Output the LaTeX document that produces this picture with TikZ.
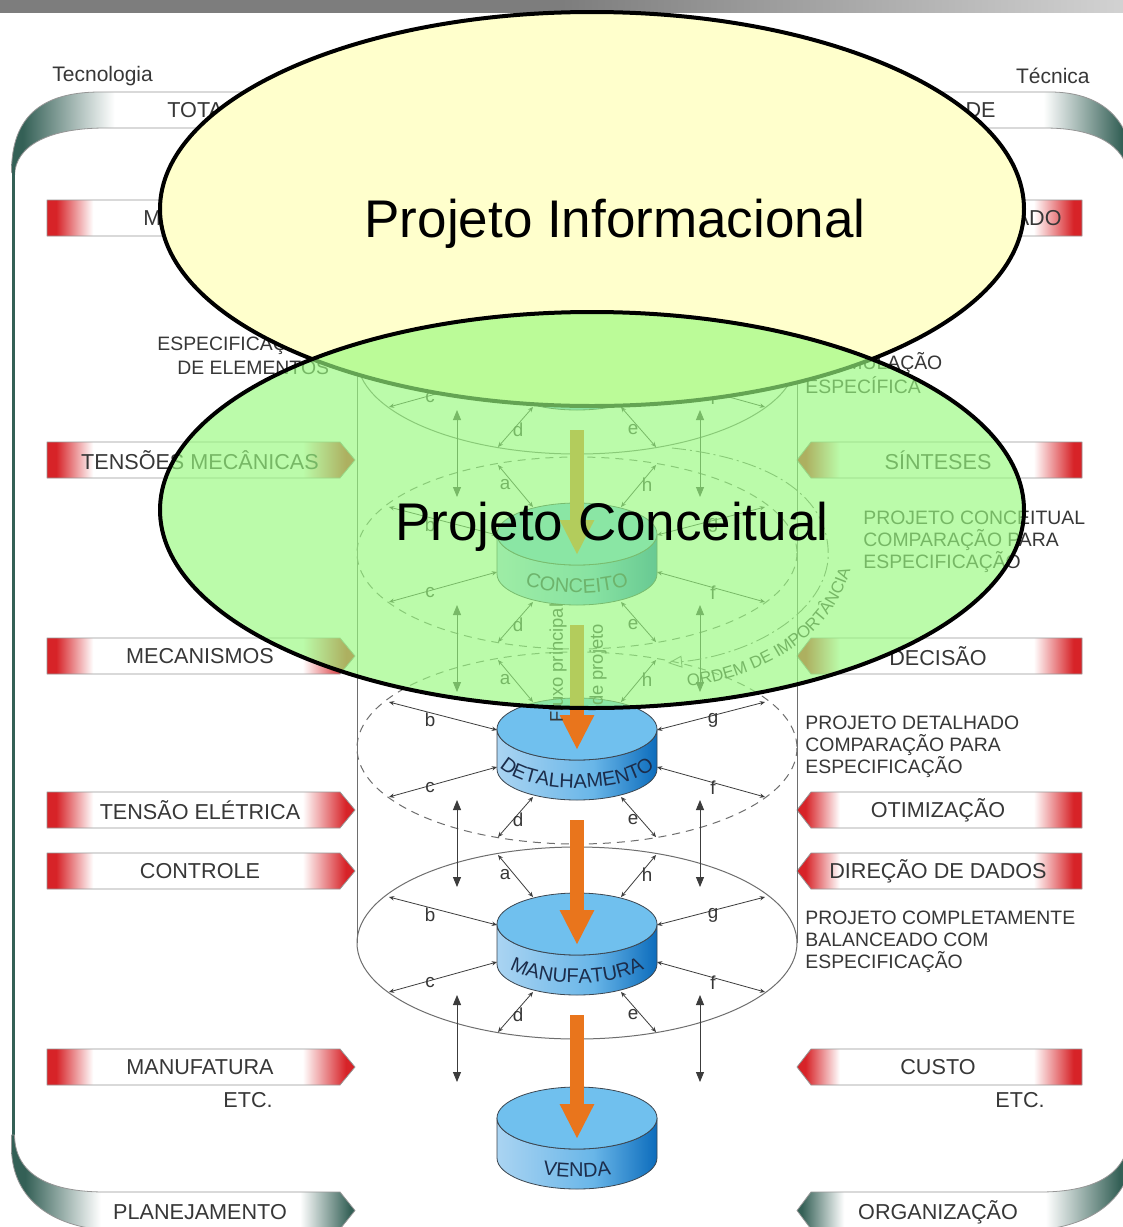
\documentclass[tikz,border=0pt]{standalone}
\usepackage{fontspec}
\setmainfont{Liberation Sans}
\usetikzlibrary{arrows.meta,decorations.text}
\definecolor{tabred}{RGB}{215,35,40}
\definecolor{frameteal}{RGB}{52,96,86}
\definecolor{txtgray}{RGB}{55,55,55}
\definecolor{edgegray}{RGB}{150,150,150}
\definecolor{linegray}{RGB}{60,60,60}
\definecolor{ringgray}{RGB}{110,110,110}
\definecolor{floworange}{RGB}{233,117,28}
\definecolor{disctop}{RGB}{112,192,238}
\definecolor{discL}{RGB}{170,212,242}
\definecolor{discM}{RGB}{105,182,232}
\definecolor{discR}{RGB}{12,108,188}
\definecolor{discline}{RGB}{60,70,80}
\definecolor{discnavy}{RGB}{28,45,75}
\definecolor{infoyel}{RGB}{255,255,204}
\definecolor{concgreen}{RGB}{152,250,126}
\definecolor{bardark}{RGB}{125,125,125}
\definecolor{barlight}{RGB}{210,210,210}
\pgfdeclarehorizontalshading{tabshade}{100bp}{color(0bp)=(tabred); color(26.5bp)=(tabred); color(32.5bp)=(white); color(66.5bp)=(white); color(73.5bp)=(tabred); color(100bp)=(tabred)}
\pgfdeclarehorizontalshading{bandL}{100bp}{color(0bp)=(frameteal); color(27bp)=(frameteal); color(38bp)=(white); color(67bp)=(white); color(74.3bp)=(frameteal); color(100bp)=(frameteal)}
\pgfdeclarehorizontalshading{bandR}{100bp}{color(0bp)=(frameteal); color(25.7bp)=(frameteal); color(32bp)=(white); color(62bp)=(white); color(73bp)=(frameteal); color(100bp)=(frameteal)}
\pgfdeclarehorizontalshading{ribbon}{100bp}{color(0bp)=(frameteal); color(25.5bp)=(frameteal); color(29.6bp)=(white); color(71bp)=(white); color(74.5bp)=(frameteal); color(100bp)=(frameteal)}
\pgfdeclarehorizontalshading{topbar}{100bp}{color(0bp)=(bardark); color(50bp)=(bardark); color(75bp)=(barlight); color(100bp)=(barlight)}
\pgfdeclarehorizontalshading{discside}{100bp}{color(0bp)=(discL); color(25bp)=(discL); color(55bp)=(discM); color(75bp)=(discR); color(100bp)=(discR)}
\begin{document}
\begin{tikzpicture}[x=0.5pt, y=-0.5pt, line join=round,
    txt/.style={text=txtgray, inner sep=0pt},
    tabtext/.style={txt, font=\fontsize{10.8}{12}\selectfont},
    sidetext/.style={txt, font=\fontsize{9.7}{11}\selectfont, align=left, anchor=west},
    letter/.style={txt, font=\fontsize{9.4}{10}\selectfont},
    tabline/.style={draw=edgegray, line width=0.4pt},
    ring/.style={draw=ringgray, line width=0.5pt},
    ringdash/.style={dash pattern=on 4pt off 3pt},
    link/.style={{Stealth[length=2.6pt,width=2.2pt]}-{Stealth[length=2.6pt,width=2.2pt]}, draw=linegray, line width=0.4pt},
    vlink/.style={{Triangle[length=5pt,width=4pt]}-{Triangle[length=5pt,width=4pt]}, draw=linegray, line width=0.45pt},
    flow/.style={-{Triangle[length=17.5pt,width=16pt]}, draw=floworange, line width=6.8pt, line cap=butt},
    phase/.style={draw=black, line width=2pt},
    phasetext/.style={font=\fontsize{26.5}{30}\selectfont, inner sep=0pt}]
\useasboundingbox (0,0) rectangle (1123,1227);
\clip (0,0) rectangle (1123,1227);
\fill[white] (0,0) rectangle (1123,1227);
\shade[shading=topbar] (0,0) rectangle (1123,12.5);
% frame: ribbon, side line, bottom bands
\shade[shading=ribbon, draw=edgegray, line width=0.4pt] (11.5,172) .. controls (11.5,118) and (40,92) .. (100,92) -- (1050,92) .. controls (1100,92) and (1133,118) .. (1133,172) -- (1129,176) .. controls (1125,145) and (1095,128) .. (1045,128) -- (105,128) .. controls (50,128) and (15,145) .. (14.5,176) -- cycle;
\draw[frameteal, line width=1.5pt] (13,165) -- (13,1148);
\shade[shading=bandL, draw=edgegray, line width=0.4pt] (11.5,1135) -- (11.5,1150) .. controls (13,1195) and (45,1222) .. (95,1229) -- (340,1229) -- (355,1210.5) -- (340,1192) -- (105,1192) .. controls (50,1192) and (15,1175) .. (14.5,1135) -- cycle;
\shade[shading=bandR, draw=edgegray, line width=0.4pt] (1133,1135) -- (1133,1150) .. controls (1131,1195) and (1098,1222) .. (1048,1229) -- (811,1229) -- (797,1210.5) -- (811,1192) -- (1040,1192) .. controls (1093,1192) and (1128,1175) .. (1129,1135) -- cycle;
\node[txt, font=\fontsize{10.5}{12}\selectfont, anchor=west] (tecno) at (52,76) {Tecnologia};
\node[txt, font=\fontsize{10.5}{12}\selectfont, anchor=east] (tecnica) at (1090,76) {Técnica};
\node[tabtext, anchor=west] (tota) at (167,110) {TOTA};
\node[tabtext, anchor=east] (rde) at (996,110) {DE};
\node[tabtext] (plan) at (200,1212) {PLANEJAMENTO};
\node[tabtext] (org) at (938,1212) {ORGANIZAÇÃO};
% tabs
\foreach \y in {218,460,656,810,871,1067}{
  \shade[shading=tabshade, tabline] (47,\y-18) -- (340,\y-18) -- (355,\y) -- (340,\y+18) -- (47,\y+18) -- cycle;
  \shade[shading=tabshade, tabline] (1082,\y-18) -- (811,\y-18) -- (797,\y) -- (811,\y+18) -- (1082,\y+18) -- cycle;
}
\node[tabtext, anchor=west] (ltab0) at (143,218) {M};
\node[tabtext, anchor=east] (rtab0) at (1062,218) {ADO};
\foreach \y/\t [count=\i] in {460/TENSÕES MECÂNICAS, 656/MECANISMOS, 810/TENSÃO ELÉTRICA, 871/CONTROLE, 1067/MANUFATURA}
  \node[tabtext] (ltab\i) at (200,\y) {\t};
\foreach \y/\t [count=\i] in {460/SÍNTESES, 656/DECISÃO, 810/OTIMIZAÇÃO, 871/DIREÇÃO DE DADOS, 1067/CUSTO}
  \node[tabtext] (rtab\i) at (938,\y) {\t};
\node[tabtext] (letc) at (248,1100) {ETC.};
\node[tabtext] (retc) at (1020,1100) {ETC.};
% side notes
\node[sidetext] (lspec1) at (157,346) {ESPECIFICAÇ};
\node[sidetext] (lspec2) at (177,368) {DE ELEMENTOS};
\node[sidetext] (rspec1) at (846,363) {MULAÇÃO};
\node[sidetext] (rspec2) at (805,385) {ESPECÍFICA};
\node[sidetext] (rconc) at (863,542) {PROJETO CONCEITUAL\\COMPARAÇÃO PARA\\ESPECIFICAÇÃO};
\node[sidetext] (rdet) at (805,747) {PROJETO DETALHADO\\COMPARAÇÃO PARA\\ESPECIFICAÇÃO};
\node[sidetext] (rman) at (805,942) {PROJETO COMPLETAMENTE\\BALANCEADO COM\\ESPECIFICAÇÃO};
% design core
\draw[ring] (357,163) -- (357,943) (797,163) -- (797,943);
\foreach \R/\st in {358/solid, 553/ringdash, 748/ringdash, 943/solid}
  \draw[ring,\st] (577,\R) ellipse[x radius=220, y radius=96];
\foreach \R/\n in {358/spec, 553/conc, 748/det, 943/man, 1137/venda}{
  \shade[shading=discside, draw=discline, line width=0.4pt] (497,\R-19) -- (497,\R+21) arc[start angle=180, end angle=0, x radius=80, y radius=31] -- (657,\R-19) arc[start angle=0, end angle=180, x radius=80, y radius=31] -- cycle;
  \filldraw[fill=disctop, draw=discline, line width=0.4pt] (577,\R-19) ellipse[x radius=80, y radius=31];
  \coordinate (\n-in) at (577,\R+2);
  \coordinate (\n-out) at (577,\R+72);
}
{\fontsize{10}{11}\selectfont
\foreach \R/\lab in {553/CONCEITO, 748/DETALHAMENTO, 943/MANUFATURA, 1137/VENDA}
  \path[decorate, decoration={text along path, text align=center, text color=discnavy, text/.expanded=\lab}] (495,\R+8) arc[start angle=180, end angle=0, x radius=82, y radius=32];
}
\foreach \R/\n in {358/spec, 553/conc, 748/det, 943/man}{
  \foreach \l/\xr/\yr/\xd/\yd/\xt/\yt in {b/389/-46/497/-18/430/-28, g/765/-46/657/-18/713/-28, c/389/49/497/19/430/40, f/765/49/657/19/713/40, a/498/-88/533/-46/505/-68, h/656/-88/621/-46/647/-68, d/498/89/533/49/518/72, e/656/89/621/49/633/72}{
    \coordinate (\n-\l-r) at (\xr,\R+\yr);
    \coordinate (\n-\l-d) at (\xd,\R+\yd);
    \draw[link] (\n-\l-d) -- (\n-\l-r);
    \node[letter] (\n-\l) at (\xt,\R+\yt) {\l};
  }
  \coordinate (\n-v1) at (457,\R+52); \coordinate (\n-v2) at (457,\R+139);
  \coordinate (\n-v3) at (700,\R+52); \coordinate (\n-v4) at (700,\R+139);
  \draw[vlink] (\n-v1) -- (\n-v2);
  \draw[vlink] (\n-v3) -- (\n-v4);
}
\draw[flow] (spec-out) -- (conc-in);
\draw[flow] (conc-out) -- (det-in);
\draw[flow] (det-out) -- (man-in);
\draw[flow] (man-out) -- (venda-in);
\node[txt, rotate=90, font=\fontsize{9.2}{10}\selectfont] (fluxo) at (558,663) {Fluxo principal};
\node[txt, rotate=90, font=\fontsize{9.2}{10}\selectfont] (deproj) at (598,665) {de projeto};
% ordem de importancia
\coordinate (ord-s) at (672,448);
\coordinate (ord-e) at (668,663);
\draw[draw=ringgray, line width=0.45pt, dash pattern=on 7pt off 2pt on 1pt off 2pt, -{Triangle[open,length=7pt,width=6pt]}] (ord-s) .. controls (785,460) and (832,505) .. (828,560) .. controls (822,615) and (750,655) .. (ord-e);
{\fontsize{8.4}{9}\selectfont
\path[decorate, decoration={text along path, text align=center, text color=txtgray, text={ORDEM DE IMPORTÂNCIA}}] (676,688) .. controls (765,680) and (840,632) .. (853,558);
}
% phases
\filldraw[phase, fill=infoyel] (592,209) ellipse[x radius=432, y radius=197];
\node[phasetext] (info) at (615,224) {Projeto Informacional};
\filldraw[phase, fill=concgreen, fill opacity=0.66] (592,510) ellipse[x radius=432, y radius=198];
\node[phasetext] (concep) at (612,527) {Projeto Conceitual};
\end{tikzpicture}
\end{document}
